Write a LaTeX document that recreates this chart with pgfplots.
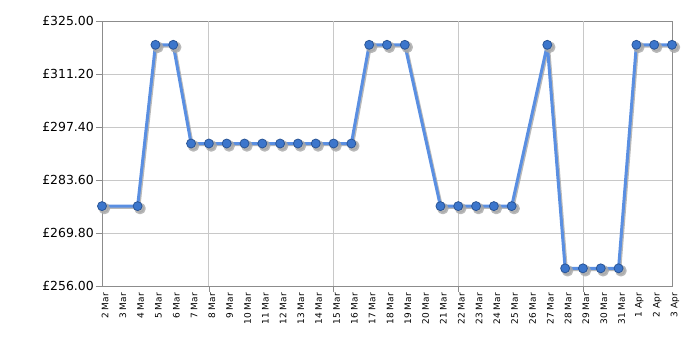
\documentclass[border=0pt]{standalone}
\usepackage{fontspec}
\setmainfont{DejaVu Sans}
\usepackage{pgfplots}
\usepackage{pgfplotstable}
\pgfplotsset{compat=1.18}
\definecolor{lineblue}{HTML}{5A8FE2}
\definecolor{markblue}{HTML}{3C76CC}
\definecolor{markedge}{HTML}{2A5596}
\definecolor{gridgray}{HTML}{C8C8C8}
\definecolor{axisgray}{HTML}{8C8C8C}
\definecolor{shadowgray}{HTML}{A8A8A8}
\pgfplotstableread{
x y
0 276.8
2 276.8
3 318.8
4 318.8
5 293.1
6 293.1
7 293.1
8 293.1
9 293.1
10 293.1
11 293.1
12 293.1
13 293.1
14 293.1
15 318.8
16 318.8
17 318.8
19 276.8
20 276.8
21 276.8
22 276.8
23 276.8
25 318.8
26 260.6
27 260.6
28 260.6
29 260.6
30 318.8
31 318.8
32 318.8
}\prices
\begin{document}
\begin{tikzpicture}
\begin{axis}[
  name=ax, scale only axis, width=570bp, height=265bp,
  xmin=0, xmax=32, ymin=256, ymax=325,
  clip=false,
  axis line style={axisgray},
  tick align=outside,
  xtick pos=bottom, ytick pos=left,
  xtick={0,...,32},
  xticklabels={2 Mar,3 Mar,4 Mar,5 Mar,6 Mar,7 Mar,8 Mar,9 Mar,10 Mar,11 Mar,12 Mar,13 Mar,14 Mar,15 Mar,16 Mar,17 Mar,18 Mar,19 Mar,20 Mar,21 Mar,22 Mar,23 Mar,24 Mar,25 Mar,26 Mar,27 Mar,28 Mar,29 Mar,30 Mar,31 Mar,1 Apr,2 Apr,3 Apr},
  x tick label style={rotate=90, anchor=east, font=\fontsize{9}{10}\selectfont, inner sep=1bp, yshift=-3bp},
  major x tick style={draw=none},
  extra x ticks={6,13,20,27},
  extra x tick labels={},
  extra x tick style={xmajorgrids=true, major x tick style={draw=axisgray}, major tick length=6bp},
  ytick={256,269.8,283.6,297.4,311.2,325},
  yticklabel={£\pgfmathprintnumber[fixed,fixed zerofill,precision=2]{\tick}},
  /pgf/number format/assume math mode=true,
  y tick label style={font=\fontsize{12.5}{14}\selectfont, inner sep=2bp},
  major y tick style={draw=axisgray},
  major tick length=6bp,
  ymajorgrids=true,
  grid style={gridgray, line width=0.8bp},
]
\addplot[shadowgray, line width=3bp, line join=round, opacity=0.8, transform canvas={xshift=1.2bp,yshift=-1.2bp},
  mark=*, mark size=4.3bp, mark options={fill=shadowgray, draw=shadowgray}] table[x=x,y=y] {\prices};
\addplot[lineblue, line width=3bp, line join=round,
  mark=*, mark size=4.5bp, mark options={fill=markblue, draw=markedge, line width=0.8bp}] table[x=x,y=y] {\prices};
\end{axis}
\path[use as bounding box] ([shift={(-102bp,-64bp)}]ax.south west) rectangle ++(700bp,350bp);
\end{tikzpicture}
\end{document}
